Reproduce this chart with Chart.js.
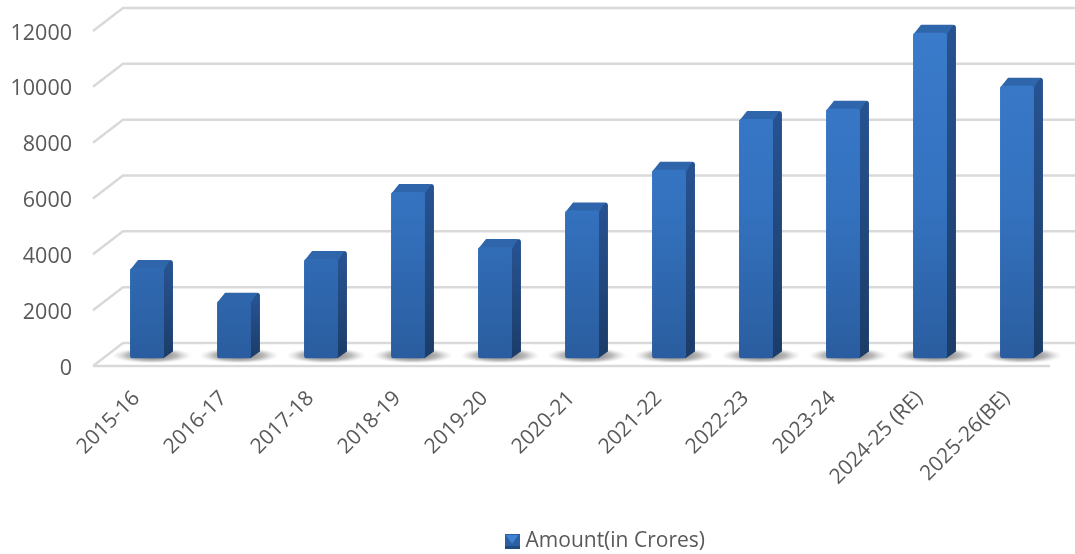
<!DOCTYPE html>
<html><head><meta charset="utf-8">
<style>html,body{margin:0;padding:0;background:#fff}canvas{display:block}</style>
<script src="https://cdn.jsdelivr.net/npm/chart.js@4"></script>
</head><body>
<canvas id="c" width="1075" height="554" style="width:1075px;height:554px"></canvas>
<script>
const categories = ["2015-16","2016-17","2017-18","2018-19","2019-20","2020-21","2021-22","2022-23","2023-24","2024-25 (RE)","2025-26(BE)"];
const amounts = [3240,2070,3560,5960,3990,5300,6760,8580,8950,11670,9770];
const seriesName = "Amount(in Crores)";
const tickStep = 2000, axisMax = 12000;

const WALL_DX = 30, WALL_DY = 23, RIGHT_EDGE = 1075;
const BAR_DX = 10.5, BAR_DY = 7.5, SIDE_DX = 9, SIDE_DY = 8;
const GRID = "#d9d9d9", TEXT = "#595959";

function marker(){
  const m = document.createElement("canvas"); m.width = 15; m.height = 15;
  const g = m.getContext("2d");
  g.fillStyle = "#2b5f9f"; g.fillRect(0,0,15,15);
  g.fillStyle = "#3f82d4";
  g.beginPath(); g.moveTo(1,1); g.lineTo(14,1); g.lineTo(7.5,10); g.closePath(); g.fill();
  g.fillStyle = "#1f4a80"; g.fillRect(0,12,15,3);
  return m;
}
const wall3d = {
  id:"wall3d",
  afterLayout(chart){
    chart.legend.left += 82; chart.legend.right += 82;
    chart.legend.top += 11; chart.legend.bottom += 11;
  },
  beforeDatasetsDraw(chart){
    const {ctx, chartArea:a, scales:{y}} = chart;
    ctx.save();
    ctx.strokeStyle = GRID; ctx.lineWidth = 2.5; ctx.lineCap = "butt";
    y.ticks.forEach((t,i)=>{
      const py = y.getPixelForTick(i);
      ctx.beginPath();
      ctx.moveTo(a.left, py);
      ctx.lineTo(a.left+WALL_DX, py-WALL_DY);
      ctx.lineTo(RIGHT_EDGE, py-WALL_DY);
      ctx.stroke();
    });
    const b = y.getPixelForValue(0);
    ctx.beginPath();
    ctx.moveTo(a.left,b); ctx.lineTo(a.right,b);
    ctx.stroke();
    // floor shadows
    chart.getDatasetMeta(0).data.forEach(el=>{
      const cx = el.x+BAR_DX+5, cy = el.base-BAR_DY-3, rx = 40, ry = 8;
      ctx.save();
      ctx.translate(cx,cy); ctx.scale(rx,ry);
      const r = ctx.createRadialGradient(0,0,0.1,0,0,1);
      r.addColorStop(0,"rgba(80,80,80,.85)");
      r.addColorStop(.6,"rgba(120,120,120,.5)");
      r.addColorStop(1,"rgba(190,190,190,0)");
      ctx.fillStyle = r;
      ctx.beginPath(); ctx.arc(0,0,1,0,Math.PI*2); ctx.fill();
      ctx.restore();
    });
    ctx.restore();
  },
  beforeDatasetDraw(chart){
    const {ctx} = chart;
    ctx.save();
    ctx.translate(BAR_DX,-BAR_DY);
    chart.getDatasetMeta(0).data.forEach(el=>{
      const w = el.width, l = el.x-w/2, r = el.x+w/2, t = el.y, b = el.base;
      const sg = ctx.createLinearGradient(0,t,0,b);
      sg.addColorStop(0,"#275290"); sg.addColorStop(1,"#1b3c68");
      ctx.fillStyle = sg;
      ctx.beginPath();
      ctx.moveTo(r-1,t); ctx.lineTo(r+SIDE_DX-3,t-SIDE_DY);
      ctx.quadraticCurveTo(r+SIDE_DX,t-SIDE_DY,r+SIDE_DX,t-SIDE_DY+3);
      ctx.lineTo(r+SIDE_DX,b-SIDE_DY+1); ctx.lineTo(r-1,b); ctx.closePath(); ctx.fill();
      ctx.fillStyle = "#2f66ab";
      ctx.beginPath();
      ctx.moveTo(l,t+2); ctx.lineTo(l+SIDE_DX-1,t-SIDE_DY);
      ctx.lineTo(r+SIDE_DX-3,t-SIDE_DY); ctx.lineTo(r,t+2); ctx.closePath(); ctx.fill();
    });
  },
  afterDatasetDraw(chart){ chart.ctx.restore(); }
};
new Chart(document.getElementById("c"),{
  type:"bar",
  data:{labels:categories,datasets:[{
    label:seriesName,
    data:amounts,
    barPercentage:0.39,
    categoryPercentage:1,
    borderRadius:3,
    borderSkipped:false,
    backgroundColor(c){
      const a = c.chart.chartArea; if(!a) return "#3070bd";
      const g = c.chart.ctx.createLinearGradient(0,a.top,0,a.bottom);
      g.addColorStop(0,"#3a7bcb"); g.addColorStop(.55,"#3472bf"); g.addColorStop(1,"#2a5d9f");
      return g;
    }
  }]},
  plugins:[wall3d],
  options:{
    responsive:false,animation:false,devicePixelRatio:1,
    layout:{padding:{top:31,left:0,right:25,bottom:3}},
    plugins:{
      tooltip:{enabled:false},
      legend:{position:"bottom",labels:{
        color:TEXT,font:{family:"Open Sans",size:21},
        usePointStyle:true,pointStyle:marker(),padding:4,boxWidth:6
      }}
    },
    scales:{
      x:{grid:{display:false},border:{display:false},
        ticks:{color:TEXT,font:{family:"Open Sans",size:21},minRotation:45,maxRotation:45,padding:12,autoSkip:false},
        afterFit(s){s.height=150}},
      y:{min:0,max:axisMax,grid:{display:false},border:{display:false},
        ticks:{stepSize:tickStep,color:TEXT,font:{family:"Open Sans",size:21.5},padding:13,labelOffset:2.5,callback:v=>String(v)},
        afterFit(s){s.width=93}}
    }
  }
});
</script>
</body></html>
